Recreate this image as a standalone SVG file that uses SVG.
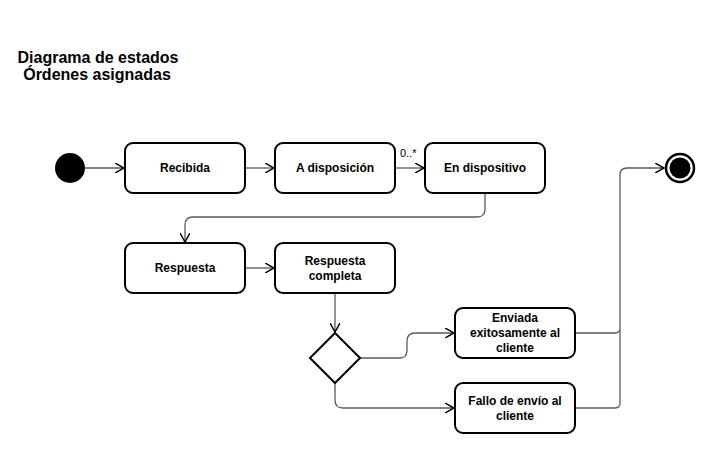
<svg xmlns="http://www.w3.org/2000/svg" width="715" height="453" viewBox="0 0 715 453">
<style>
.box{fill:#fff;stroke:#000;stroke-width:2}
.t{font-family:"Liberation Sans",Arial,sans-serif;font-size:12px;font-weight:bold;text-anchor:middle;fill:#000}
.title{font-family:"Liberation Sans",Arial,sans-serif;font-size:16px;font-weight:bold;text-anchor:middle;fill:#000}
.c{fill:none;stroke:#5a5a5a;stroke-width:1.3}
.lbl{font-family:"Liberation Sans",Arial,sans-serif;font-size:11px;fill:#000}
</style>
<defs>
<marker id="a" viewBox="0 0 10 10" refX="9" refY="5" markerWidth="10" markerHeight="10" markerUnits="userSpaceOnUse" orient="auto">
<path d="M0,0 L9,5 L0,10" fill="none" stroke="#000" stroke-width="1.5"/>
</marker>
</defs>
<rect width="715" height="453" fill="#fff"/>
<g id="title">
<text class="title" x="98" y="63">Diagrama de estados</text>
<text class="title" x="97" y="80">Órdenes asignadas</text>
</g>
<g id="connectors">
<path class="c" d="M85,168 H124" marker-end="url(#a)"/>
<path class="c" d="M245,168 H274" marker-end="url(#a)"/>
<path class="c" d="M395,168 H424" marker-end="url(#a)"/>
<text class="lbl" x="400" y="157">0..*</text>
<path class="c" d="M485,192 V209 Q485,217 477,217 H193 Q185,217 185,225 V242" marker-end="url(#a)"/>
<path class="c" d="M245,268 H274" marker-end="url(#a)"/>
<path class="c" d="M335,292 V332" marker-end="url(#a)"/>
<path class="c" d="M360,358 H400 Q407,358 407,350 V341 Q407,333 415,333 H454" marker-end="url(#a)"/>
<path class="c" d="M335,383 V400 Q335,408 343,408 H454" marker-end="url(#a)"/>
<path class="c" d="M575,333 H615 Q620,333 620,328 V175 Q620,168 627,168 H664" marker-end="url(#a)"/>
<path class="c" d="M575,408 H615 Q620,408 620,403 V330"/>
</g>
<g id="start"><circle cx="70" cy="168" r="15" fill="#000"/></g>
<g id="recibida"><rect class="box" x="125" y="143" width="120" height="50" rx="8"/><text class="t" x="185" y="172">Recibida</text></g>
<g id="adisposicion"><rect class="box" x="275" y="143" width="120" height="50" rx="8"/><text class="t" x="335" y="172">A disposición</text></g>
<g id="endispositivo"><rect class="box" x="425" y="143" width="120" height="50" rx="8"/><text class="t" x="485" y="172">En dispositivo</text></g>
<g id="respuesta"><rect class="box" x="125" y="243" width="120" height="50" rx="8"/><text class="t" x="185" y="272">Respuesta</text></g>
<g id="respuestacompleta"><rect class="box" x="275" y="243" width="120" height="50" rx="8"/><text class="t" x="335" y="265">Respuesta</text><text class="t" x="335" y="280">completa</text></g>
<g id="decision"><path class="box" d="M335,333 L360,358 L335,383 L310,358 Z"/></g>
<g id="enviada"><rect class="box" x="455" y="308" width="120" height="50" rx="8"/><text class="t" x="515" y="322">Enviada</text><text class="t" x="515" y="337">exitosamente al</text><text class="t" x="515" y="352">cliente</text></g>
<g id="fallo"><rect class="box" x="455" y="383" width="120" height="50" rx="8"/><text class="t" x="515" y="405">Fallo de envío al</text><text class="t" x="515" y="420">cliente</text></g>
<g id="end"><circle cx="680" cy="168" r="14" fill="#fff" stroke="#000" stroke-width="2.5"/><circle cx="680" cy="168" r="10.5" fill="#000"/></g>
</svg>
